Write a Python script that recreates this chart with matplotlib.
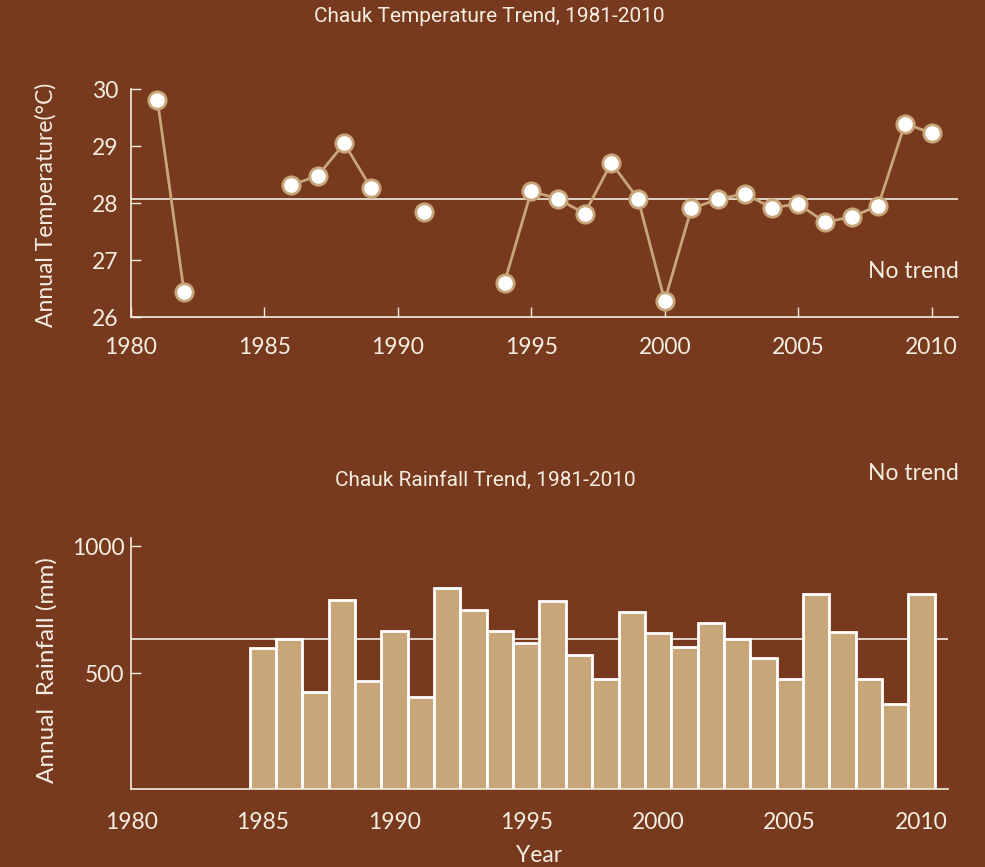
import numpy as np
import matplotlib
matplotlib.use("Agg")
import matplotlib.pyplot as plt

# annual mean temperature, Chauk (NaN = no record)
years_t = np.arange(1981, 2011)
temp = [29.82, 26.44, np.nan, np.nan, np.nan, 28.32, 28.48, 29.05, 28.27, np.nan,
        27.85, np.nan, np.nan, 26.61, 28.21, 28.08, 27.82, 28.71, 28.08, 26.29,
        27.91, 28.07, 28.17, 27.92, 27.99, 27.67, 27.76, 27.96, 29.40, 29.23]
temp_mean = 28.08

# annual rainfall, Chauk (mm)
years_r = np.arange(1985, 2011)
rain = [598, 634, 428, 788, 469, 666, 408, 834, 749, 667,
        618, 784, 571, 478, 742, 657, 602, 696, 634, 559,
        478, 812, 661, 478, 378, 812]
rain_mean = 635

bg = "#773a1e"
tan = "#c8a679"
cream = "#f4ede2"
font = ["Lato", "DejaVu Sans"]
title_font = ["Roboto", "DejaVu Sans"]
plt.rcParams["font.family"] = font

fig = plt.figure(figsize=(9.85, 8.67), dpi=100, facecolor=bg)

# --- temperature ---
ax1 = fig.add_axes([0.1327, 0.634, 0.8403, 0.263])
ax1.set_facecolor(bg)
ax1.axhline(temp_mean, color=cream, lw=1.2, zorder=1)
ax1.plot(years_t, temp, color=tan, lw=2, marker="o", ms=12.5,
         mfc="white", mec=tan, mew=2, zorder=3)
ax1.set_xlim(1980, 2011)
ax1.set_ylim(26, 30)
ax1.set_xticks(range(1980, 2011, 5))
ax1.set_yticks(range(26, 31))
ax1.tick_params(axis="x", direction="in", length=7, width=1, color=cream,
                labelcolor=cream, labelsize=16.5, pad=14)
ax1.tick_params(axis="y", direction="in", length=7, width=1, color=cream,
                labelcolor=cream, labelsize=16.5, pad=9)
ax1.text(1.0, 0.2, "No trend", transform=ax1.transAxes, ha="right",
         va="center", color=cream, fontsize=16.5)

# --- rainfall ---
ax2 = fig.add_axes([0.1332, 0.0896, 0.8290, 0.2894])
ax2.set_facecolor(bg)
ax2.axhline(rain_mean, color=cream, lw=1.2, zorder=1)
ax2.bar(years_r, rain, width=1.0, color=tan, edgecolor="white", lw=2,
        zorder=2)
ax2.set_xlim(1980, 2011)
ax2.set_ylim(44, 1030)
ax2.set_xticks(range(1980, 2011, 5))
ax2.set_yticks([500, 1000])
ax2.tick_params(axis="x", length=0, labelcolor=cream, labelsize=16.5, pad=16)
ax2.tick_params(axis="y", direction="in", length=7, width=1, color=cream,
                labelcolor=cream, labelsize=16.5, pad=5)

for ax in (ax1, ax2):
    for side in ("top", "right"):
        ax.spines[side].set_visible(False)
    for side in ("left", "bottom"):
        ax.spines[side].set_color(cream)
        ax.spines[side].set_linewidth(1.2)

fig.text(0.4965, 0.9815, "Chauk Temperature Trend, 1981-2010", ha="center",
         va="center", color=cream, fontsize=15, family=title_font)
fig.text(0.4924, 0.446, "Chauk Rainfall Trend, 1981-2010", ha="center",
         va="center", color=cream, fontsize=15, family=title_font)
fig.text(0.973, 0.4533, "No trend", ha="right", va="center", color=cream,
         fontsize=16.5)
fig.text(0.047, 0.7636, "Annual Temperature(°C)", rotation=90, ha="center",
         va="center", color=cream, fontsize=16.5)
fig.text(0.048, 0.2272, "Annual  Rainfall (mm)", rotation=90, ha="center",
         va="center", color=cream, fontsize=17.5)
fig.text(0.547, 0.0138, "Year", ha="center", va="center", color=cream,
         fontsize=16.5)

fig.savefig("out.png", dpi=100, facecolor=bg)
